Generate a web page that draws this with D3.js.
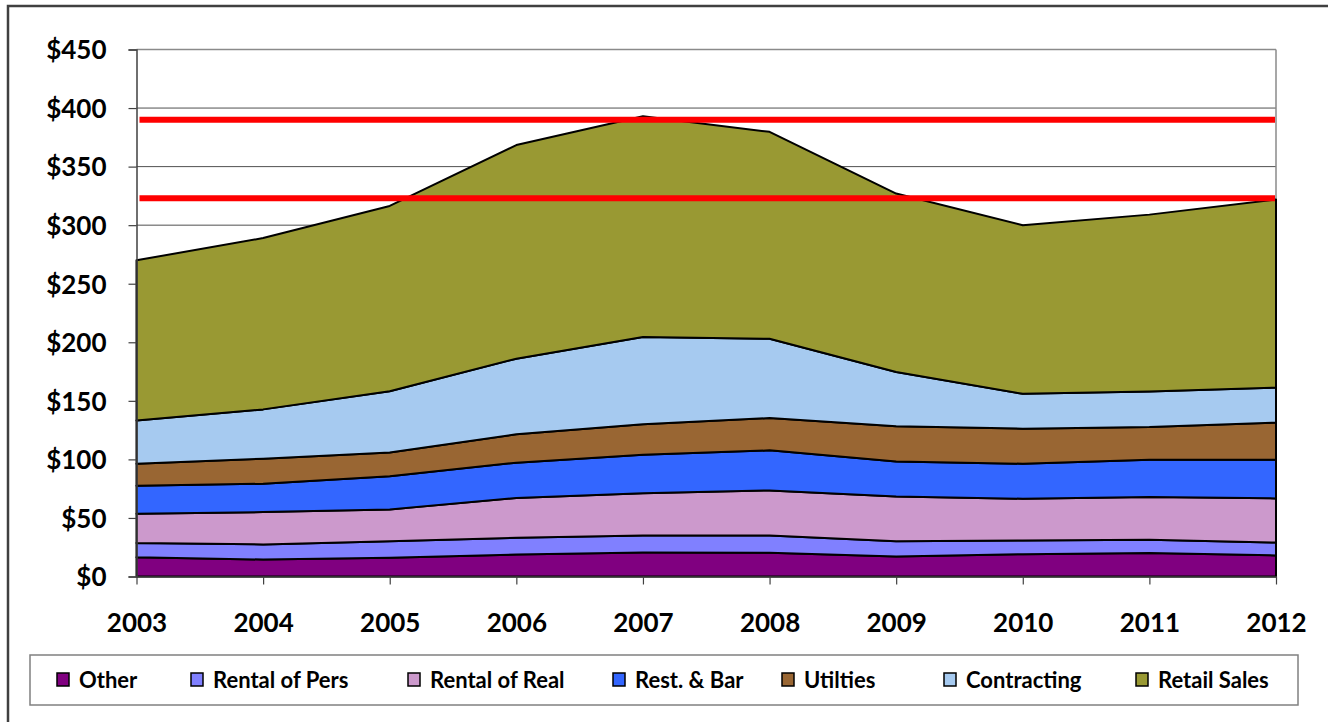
<!DOCTYPE html>
<html>
<head>
<meta charset="utf-8">
<script src="https://cdn.jsdelivr.net/npm/d3@7"></script>
<style>
  body { margin: 0; background: #fff; }
  svg { display: block; font-family: Lato, 'Open Sans', sans-serif; font-weight: bold; }
</style>
</head>
<body>
<svg id="chart" width="1328" height="722"></svg>
<script>
// values ($, stacked bottom to top)
let years = ['2003', '2004', '2005', '2006', '2007', '2008', '2009', '2010', '2011', '2012'];
let seriesNames = ['Other', 'Rental of Pers', 'Rental of Real', 'Rest. & Bar', 'Utilties', 'Contracting', 'Retail Sales'];
let colors = ['#800080', '#8080FF', '#CC99CC', '#3366FF', '#996633', '#A6CAF0', '#999933'];

let other = [16.5, 14.5, 16, 18.8, 20.5, 20.3, 17.1, 19, 20, 18];
let rentalPers = [12, 12.9, 14.2, 14.2, 14.5, 14.7, 13.1, 11.8, 11.3, 11];
let rentalReal = [25.1, 27.6, 27.1, 34, 36, 38.5, 38.2, 35.6, 36.5, 37.7];
let restBar = [23.9, 24.2, 28.4, 30.2, 33, 34.2, 29.9, 29.9, 31.9, 33];
let utilities = [18.8, 21.4, 20.2, 24.2, 26, 27.6, 29.9, 29.9, 27.9, 31.7];
let contracting = [37, 42.1, 52.3, 64.6, 74.5, 67.7, 46.4, 29.8, 30.4, 29.9];
let retailSales = [136.7, 146.3, 158.2, 182.4, 188.5, 176.7, 152.4, 144, 151, 160.7];

let redLines = [390, 323];
let yTicks = [0, 50, 100, 150, 200, 250, 300, 350, 400, 450];

let svg = d3.select('#chart');

let plotLeft = 136.5, plotRight = 1276, plotTop = 49.5, plotBottom = 576.5;

let x = d3.scalePoint().domain(years).range([plotLeft, plotRight]);
let y = d3.scaleLinear().domain([0, 450]).range([plotBottom, plotTop]);

let allSeries = [other, rentalPers, rentalReal, restBar, utilities, contracting, retailSales];
let rows = years.map((yr, i) => {
    let row = { year: yr };
    seriesNames.forEach((name, j) => { row[name] = allSeries[j][i]; });
    return row;
});

let stacked = d3.stack().keys(seriesNames)(rows);

// outer frame
svg.append('rect')
    .attr('x', 8).attr('y', 6)
    .attr('width', 1340).attr('height', 740)
    .attr('fill', 'none')
    .attr('stroke', '#404040')
    .attr('stroke-width', 2.5);

// gridlines
svg.append('g')
    .selectAll('line')
    .data(yTicks.filter(d => d > 0))
    .enter()
    .append('line')
    .attr('x1', plotLeft).attr('x2', plotRight)
    .attr('y1', d => y(d)).attr('y2', d => y(d))
    .attr('stroke', d => d === 450 ? '#8a8a8a' : '#505050')
    .attr('stroke-width', d => d === 450 ? 1.5 : 1);

// right border of plot area
svg.append('line')
    .attr('x1', plotRight).attr('x2', plotRight)
    .attr('y1', plotTop).attr('y2', plotBottom)
    .attr('stroke', '#8a8a8a').attr('stroke-width', 1.5);

let area = d3.area()
    .x(d => x(d.data.year))
    .y0(d => y(d[0]))
    .y1(d => y(d[1]));

svg.append('g')
    .selectAll('path')
    .data(stacked)
    .enter()
    .append('path')
    .attr('d', area)
    .attr('fill', (d, i) => colors[i])
    .attr('stroke', '#000')
    .attr('stroke-width', 2)
    .attr('stroke-linejoin', 'round');

// red reference lines
svg.append('g')
    .selectAll('line')
    .data(redLines)
    .enter()
    .append('line')
    .attr('x1', plotLeft + 3).attr('x2', plotRight - 1)
    .attr('y1', d => y(d)).attr('y2', d => y(d))
    .attr('stroke', '#FF0000')
    .attr('stroke-width', 6);

// axes
let yAxis = d3.axisLeft(y)
    .tickValues(yTicks)
    .tickSize(8)
    .tickPadding(22)
    .tickFormat(d => '$' + d);

let gy = svg.append('g')
    .attr('transform', 'translate(' + plotLeft + ',0)')
    .call(yAxis);
gy.select('.domain').attr('stroke', '#404040').attr('stroke-width', 1.5);
gy.selectAll('.tick line').attr('stroke', '#404040').attr('stroke-width', 1.2);
gy.selectAll('text')
    .attr('font-size', 26)
    .attr('font-weight', 'bold')
    .attr('font-family', 'Lato, sans-serif')
    .attr('fill', '#000')
    .attr('dy', '0.36em');

let xAxis = d3.axisBottom(x)
    .tickSize(8)
    .tickSizeOuter(0)
    .tickPadding(29);

let gx = svg.append('g')
    .attr('transform', 'translate(0,' + plotBottom + ')')
    .call(xAxis);
gx.select('.domain').attr('stroke', '#404040').attr('stroke-width', 1.5);
gx.selectAll('.tick line').attr('stroke', '#404040').attr('stroke-width', 1.2);
gx.selectAll('text')
    .attr('font-size', 26)
    .attr('font-weight', 'bold')
    .attr('font-family', 'Lato, sans-serif')
    .attr('fill', '#000');

// legend
svg.append('rect')
    .attr('x', 30).attr('y', 655)
    .attr('width', 1268).attr('height', 50)
    .attr('fill', '#fff')
    .attr('stroke', '#808080')
    .attr('stroke-width', 1.5);

let legendX = [57, 191, 408, 613, 782, 944, 1136];

let legend = svg.append('g')
    .selectAll('g')
    .data(seriesNames)
    .enter()
    .append('g')
    .attr('transform', (d, i) => 'translate(' + legendX[i] + ',673)');

legend.append('rect')
    .attr('width', 12).attr('height', 13)
    .attr('fill', (d, i) => colors[i])
    .attr('stroke', '#000')
    .attr('stroke-width', 1.5);

legend.append('text')
    .attr('x', 22)
    .attr('y', 15)
    .attr('font-size', 22)
    .attr('fill', '#000')
    .text(d => d);
</script>
</body>
</html>
